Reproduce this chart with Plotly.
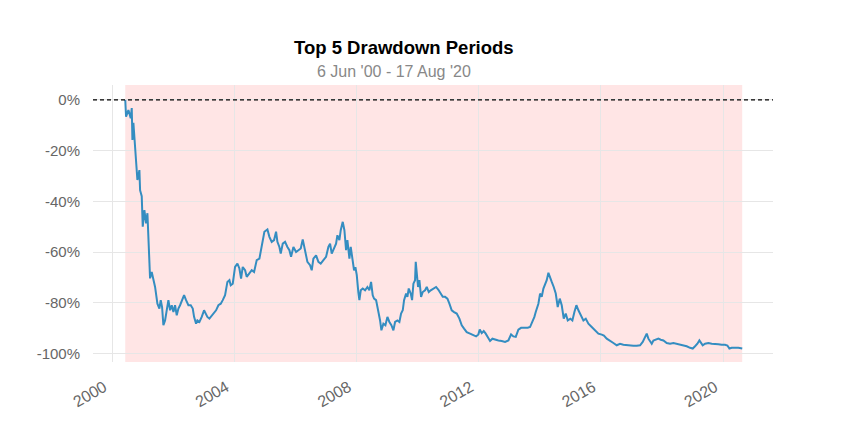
import pandas as pd
import plotly.graph_objects as go

# years after 2000-01-01 (decimal) and drawdown in %
year_offsets = [
    0.432, 0.458, 0.535, 0.611, 0.644, 0.666, 0.698, 0.753, 0.807, 0.829, 0.895, 0.917, 0.971,
    1.004, 1.058, 1.113, 1.157, 1.189, 1.222, 1.244, 1.298, 1.353, 1.408, 1.484, 1.549, 1.593,
    1.637, 1.680, 1.735, 1.789, 1.844, 1.899, 1.953, 2.008, 2.062, 2.117, 2.171, 2.226, 2.281,
    2.357, 2.422, 2.499, 2.575, 2.641, 2.684, 2.750, 2.793, 2.859, 2.935, 3.011, 3.066, 3.120,
    3.186, 3.262, 3.339, 3.404, 3.481, 3.557, 3.623, 3.699, 3.775, 3.841, 3.884, 3.950, 4.026,
    4.103, 4.168, 4.223, 4.277, 4.354, 4.408, 4.495, 4.572, 4.648, 4.735, 4.823, 4.866, 4.932,
    4.986, 5.085, 5.150, 5.226, 5.303, 5.368, 5.412, 5.477, 5.521, 5.587, 5.663, 5.739, 5.805,
    5.859, 5.936, 6.023, 6.099, 6.176, 6.241, 6.318, 6.394, 6.481, 6.536, 6.590, 6.678, 6.754,
    6.830, 6.918, 7.005, 7.081, 7.136, 7.190, 7.267, 7.332, 7.376, 7.441, 7.485, 7.551, 7.605,
    7.660, 7.703, 7.769, 7.812, 7.878, 7.921, 7.965, 8.009, 8.063, 8.096, 8.140, 8.205, 8.282,
    8.358, 8.423, 8.478, 8.532, 8.576, 8.642, 8.685, 8.729, 8.773, 8.816, 8.882, 8.947, 9.013,
    9.078, 9.143, 9.209, 9.264, 9.340, 9.405, 9.460, 9.515, 9.558, 9.624, 9.667, 9.711, 9.776,
    9.820, 9.864, 9.918, 9.940, 9.973, 10.016, 10.060, 10.115, 10.169, 10.246, 10.300, 10.366,
    10.431, 10.518, 10.606, 10.682, 10.758, 10.824, 10.900, 10.977, 11.042, 11.118, 11.195,
    11.282, 11.369, 11.446, 11.522, 11.609, 11.718, 11.828, 11.915, 11.991, 12.035, 12.100,
    12.166, 12.231, 12.297, 12.373, 12.450, 12.537, 12.646, 12.755, 12.864, 12.973, 13.061,
    13.137, 13.214, 13.300, 13.388, 13.497, 13.606, 13.682, 13.759, 13.824, 13.868, 13.912,
    13.955, 14.010, 14.064, 14.119, 14.173, 14.228, 14.283, 14.337, 14.392, 14.457, 14.523,
    14.588, 14.654, 14.719, 14.785, 14.850, 14.916, 15.003, 15.068, 15.134, 15.199, 15.265,
    15.352, 15.428, 15.505, 15.592, 15.701, 15.810, 15.919, 16.030, 16.100, 16.192, 16.301,
    16.410, 16.519, 16.628, 16.737, 16.847, 16.956, 17.065, 17.174, 17.283, 17.370, 17.447,
    17.501, 17.556, 17.610, 17.665, 17.720, 17.807, 17.883, 17.960, 18.047, 18.156, 18.265,
    18.374, 18.483, 18.592, 18.701, 18.810, 18.920, 19.007, 19.083, 19.160, 19.225, 19.280,
    19.334, 19.411, 19.520, 19.629, 19.738, 19.847, 19.956, 20.065, 20.142, 20.207, 20.284,
    20.393, 20.502, 20.628,
]
drawdown_pct = [
    0.0, -6.6, -4.0, -7.2, -3.2, -15.8, -9.0, -19.8, -26.0, -31.6, -27.7, -35.6, -38.0,
    -50.0, -43.5, -48.7, -44.7, -54.0, -64.5, -70.4, -67.9, -71.0, -73.8, -80.4, -82.3, -79.0,
    -81.7, -88.9, -87.0, -83.0, -79.0, -83.0, -81.0, -83.7, -81.0, -85.0, -82.3, -81.0, -79.0,
    -77.0, -79.0, -81.0, -81.0, -82.3, -85.6, -88.3, -87.0, -87.6, -85.6, -83.0, -84.3, -85.6,
    -86.3, -85.0, -83.7, -83.0, -81.0, -80.4, -79.0, -77.0, -71.8, -71.1, -73.1, -72.5, -65.9,
    -64.6, -66.5, -70.5, -65.9, -67.2, -69.8, -68.5, -67.2, -67.9, -63.2, -62.6, -59.3, -55.3,
    -52.0, -51.1, -54.0, -56.0, -55.3, -52.0, -56.0, -58.0, -60.6, -56.7, -56.0, -58.0, -59.3,
    -61.9, -58.0, -60.0, -59.3, -58.6, -55.0, -59.3, -63.9, -65.2, -67.2, -62.6, -61.3, -63.9,
    -64.6, -63.2, -61.9, -58.0, -56.7, -60.6, -58.6, -56.7, -53.4, -55.3, -51.4, -48.1, -51.4,
    -59.3, -55.3, -62.6, -58.0, -63.0, -67.2, -66.0, -69.0, -76.0, -79.0, -75.1, -74.4, -75.1,
    -73.8, -75.1, -71.8, -77.1, -78.4, -79.0, -81.7, -83.0, -87.0, -90.9, -88.3, -88.9, -85.6,
    -87.6, -88.9, -90.9, -87.6, -87.0, -87.6, -84.3, -83.0, -79.0, -76.4, -77.7, -74.4, -76.4,
    -79.0, -72.5, -71.1, -63.9, -69.8, -73.8, -71.1, -77.7, -75.8, -75.1, -73.8, -75.8,
    -75.1, -74.4, -73.8, -74.9, -76.4, -77.7, -77.7, -78.4, -80.4, -83.0, -83.7,
    -84.3, -86.3, -88.9, -90.2, -91.6, -92.2, -92.9, -93.3, -92.5, -90.6, -92.0,
    -91.2, -92.2, -93.8, -95.1, -94.2, -94.6, -94.9, -95.1, -95.5, -94.9, -92.5,
    -93.3, -93.5, -90.6, -89.9, -89.9, -89.9, -89.6, -87.6, -85.6, -83.7, -81.7,
    -80.4, -76.4, -77.7, -74.4, -72.5, -71.1, -68.2, -70.5, -71.8, -73.8, -76.4,
    -81.7, -78.4, -81.0, -86.3, -84.3, -87.0, -86.3, -87.0, -83.7, -81.0, -83.0,
    -85.0, -87.0, -86.3, -88.3, -89.6, -90.9, -92.2, -92.6, -93.0, -94.2, -94.9,
    -95.9, -96.8, -96.2, -96.6, -96.8, -96.9, -97.0, -97.0, -96.8, -95.5, -93.5,
    -92.2, -94.2, -95.1, -96.2, -94.9, -94.6, -94.2, -94.6, -94.9, -95.9, -96.2,
    -95.9, -96.2, -96.4, -96.8, -97.2, -97.8, -98.1, -97.2, -96.2, -94.9, -95.9,
    -96.8, -96.2, -95.9, -96.2, -96.2, -96.4, -96.6, -96.6, -96.9, -98.1, -97.8,
    -97.8, -97.8, -98.1,
]
period_starts = ["2000-06-06"]
period_ends = ["2020-08-17"]
y_ticks = [0, -20, -40, -60, -80, -100]
y_tick_labels = ["0%", "-20%", "-40%", "-60%", "-80%", "-100%"]
title_text = "Top 5 Drawdown Periods"
subtitle_text = "6 Jun '00 - 17 Aug '20"

base = pd.Timestamp("2000-01-01")
dates = [base + pd.Timedelta(days=y * 365.25) for y in year_offsets]

FONT = "Arial, Liberation Sans, sans-serif"

fig = go.Figure()
fig.add_trace(go.Scatter(
    x=dates, y=drawdown_pct, mode="lines",
    line=dict(color="#348dc1", width=2),
    hoverinfo="skip", showlegend=False,
))

for s, e in zip(period_starts, period_ends):
    fig.add_shape(type="rect", xref="x", yref="paper", x0=s, x1=e, y0=0, y1=1,
                  fillcolor="rgba(255,0,0,0.1)", line=dict(width=0), layer="below")

fig.add_shape(type="line", xref="paper", yref="y", x0=0, x1=1, y0=0, y1=0,
              line=dict(color="black", width=1.2, dash="4px,3px"))

fig.add_annotation(text="<b>" + title_text + "</b>", xref="paper", yref="paper",
                   x=0.4574, y=1.137, xanchor="center", yanchor="middle", showarrow=False,
                   font=dict(family=FONT, size=18.5, color="black"))
fig.add_annotation(text=subtitle_text, xref="paper", yref="paper",
                   x=0.4426, y=1.047, xanchor="center", yanchor="middle", showarrow=False,
                   font=dict(family=FONT, size=16, color="#888888"))

fig.update_layout(
    width=841, height=440,
    margin=dict(l=85, r=76, t=77, b=86),
    paper_bgcolor="white", plot_bgcolor="white",
    font=dict(family=FONT),
    showlegend=False,
)
fig.update_xaxes(
    type="date", range=["1999-05-18", "2021-08-20"],
    tick0="2000-01-01", dtick="M48", tickformat="%Y", tickangle=-30,
    showgrid=True, gridcolor="#e6e6e6", gridwidth=1,
    showline=False, zeroline=False, ticks="",
    ticklabelstandoff=12, ticklabelshift=-8,
    tickfont=dict(family=FONT, size=16, color="#666666"),
)
fig.update_yaxes(
    range=[-103.4, 5.9], tickvals=y_ticks, ticktext=y_tick_labels,
    showgrid=True, gridcolor="#e6e6e6", gridwidth=1,
    showline=False, zeroline=False, ticks="",
    ticklabelstandoff=12,
    tickfont=dict(family=FONT, size=15, color="#666666"),
)

fig.write_html("out.html")
